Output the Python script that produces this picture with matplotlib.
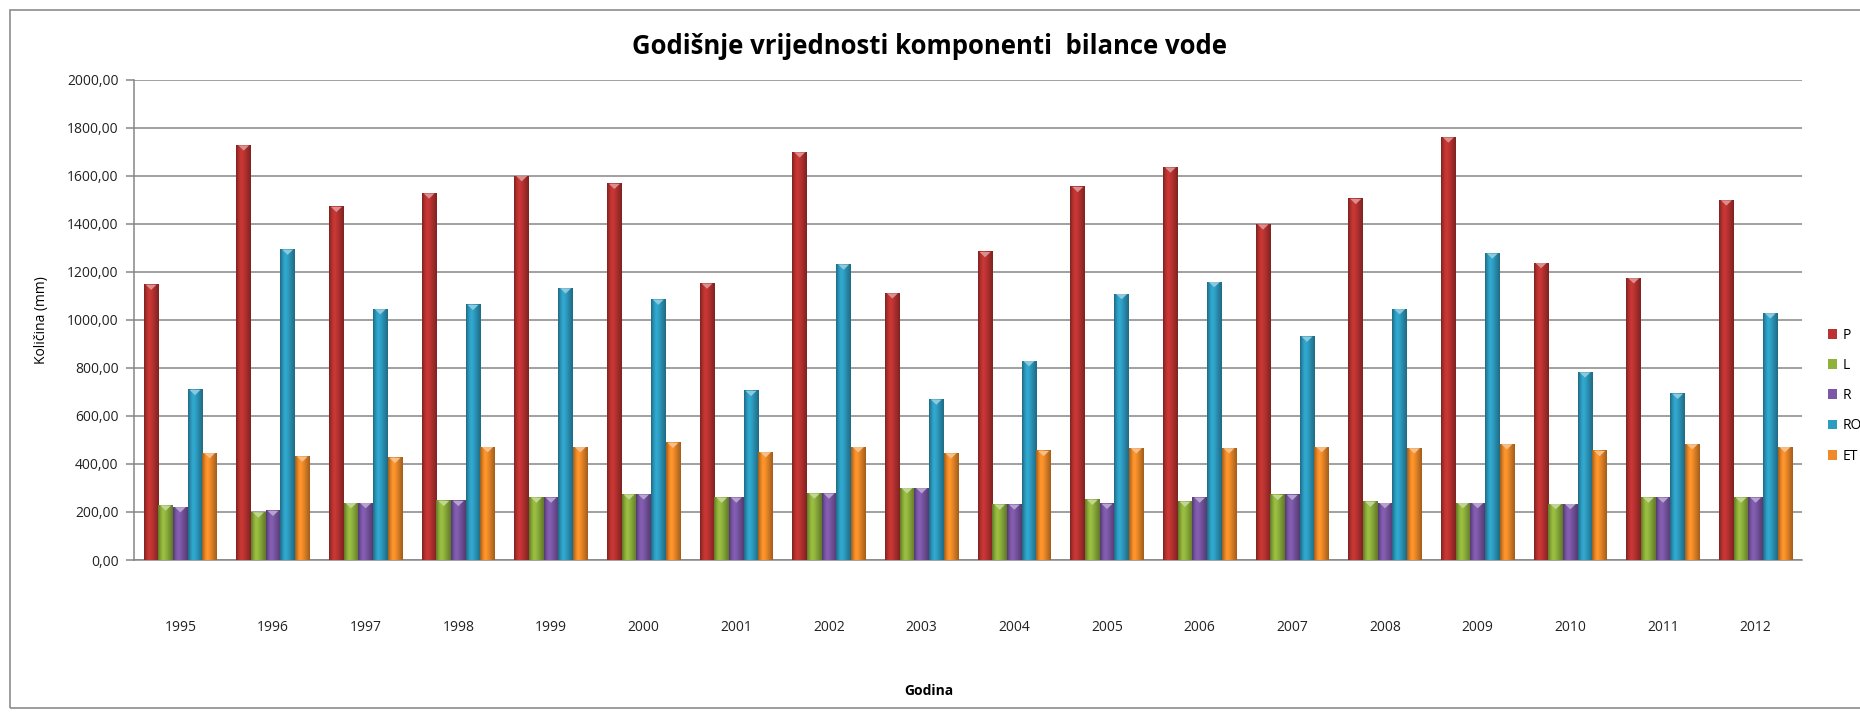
import numpy as np
import matplotlib
matplotlib.use("Agg")
import matplotlib.pyplot as plt
from matplotlib.patches import Rectangle, Polygon
from matplotlib.colors import to_rgb

years = [str(y) for y in range(1995, 2013)]
P = [1146, 1726, 1470, 1526, 1598, 1566, 1151, 1697, 1110, 1282,
     1553, 1634, 1397, 1503, 1759, 1236, 1173, 1497]
L = [227, 198, 237, 246, 260, 273, 260, 277, 299, 231,
     251, 243, 271, 243, 237, 233, 260, 260]
R = [220, 205, 237, 246, 260, 273, 260, 277, 299, 231,
     234, 260, 271, 237, 237, 233, 260, 260]
RO = [708, 1292, 1044, 1062, 1131, 1084, 704, 1230, 668, 828,
      1107, 1157, 930, 1044, 1276, 781, 692, 1027]
ET = [445, 431, 425, 470, 470, 488, 449, 470, 444, 454,
      465, 465, 470, 465, 482, 454, 482, 470]

series = [("P", P, "#bb3331"), ("L", L, "#8fb23c"), ("R", R, "#7b57a6"),
          ("RO", RO, "#2d9cc1"), ("ET", ET, "#ee8a28")]

plt.rcParams['font.family'] = ['Open Sans', 'DejaVu Sans']

fig = plt.figure(figsize=(18.6, 7.15), dpi=100)
ax = fig.add_axes([134/1860, 1-560/715, (1802-134)/1860, (560-79.5)/715])

x = np.arange(len(years))
w = 0.158
# cylinder-like shading across each bar
shade = np.array([0.72, 0.85, 0.97, 1.05, 1.08, 1.05, 1.0, 0.94, 0.88, 0.82, 0.76, 0.70])

for i, (name, vals, col) in enumerate(series):
    bars = ax.bar(x + (i - 2) * w, vals, width=w, color=col, label=name,
                  edgecolor='none', zorder=3)
    rgb = np.array(to_rgb(col))
    img = np.clip(rgb[None, None, :] * shade[None, :, None], 0, 1)
    light = rgb + (1 - rgb) * 0.45
    for b in bars:
        x0, y0 = b.get_x(), b.get_y()
        x1, top = x0 + b.get_width(), y0 + b.get_height()
        ax.imshow(img, extent=(x0, x1, y0, top),
                  aspect='auto', interpolation='bilinear', zorder=4)
        # small bevel highlight on the top of the bar
        ax.add_patch(Polygon([(x0 + 0.02, top), (x1 - 0.02, top),
                              ((x0 + x1) / 2, top - 22)],
                             closed=True, facecolor=light, edgecolor='none', zorder=5))

ax.set_xlim(-0.5, len(years) - 0.5)
ax.set_ylim(0, 2000)
ax.set_yticks(np.arange(0, 2001, 200))
ax.set_yticklabels([f"{v},00" for v in range(0, 2001, 200)], fontsize=10, color='#222222')
ax.set_xticks(x)
ax.set_xticklabels(years, fontsize=10, color='#222222')
ax.tick_params(axis='x', length=0, pad=43)
ax.tick_params(axis='y', length=6, color='#868686', width=1.1, pad=5)
ax.yaxis.grid(True, color='#868686', linewidth=1.1, zorder=0)
ax.set_axisbelow(True)
for s in ['top', 'right']:
    ax.spines[s].set_visible(False)
for s in ['left', 'bottom']:
    ax.spines[s].set_color('#868686')
    ax.spines[s].set_linewidth(1.1)

fig.text(929/1860, 1-47/715, "Godišnje vrijednosti komponenti  bilance vode",
         ha='center', va='center', fontsize=18.5, fontweight='bold')
fig.text(41.5/1860, 1-320/715, "Količina (mm)", rotation=90, ha='center', va='center',
         fontsize=10)
fig.text(929/1860, 1-691/715, "Godina", ha='center', va='center', fontsize=10,
         fontweight='bold')

handles, labels = ax.get_legend_handles_labels()
leg = fig.legend(handles, labels, loc='upper left', bbox_to_anchor=(1822/1860, 1-322/715),
                 frameon=False, fontsize=10, handlelength=0.7, handleheight=0.7,
                 handletextpad=0.35, labelspacing=1.1, borderaxespad=0)

fig.add_artist(Rectangle((10/1860, 7/715), 1.1, 1-17/715, transform=fig.transFigure,
                         fill=False, edgecolor='#8c8c8c', linewidth=1.2))

fig.savefig("out.png", dpi=100)
